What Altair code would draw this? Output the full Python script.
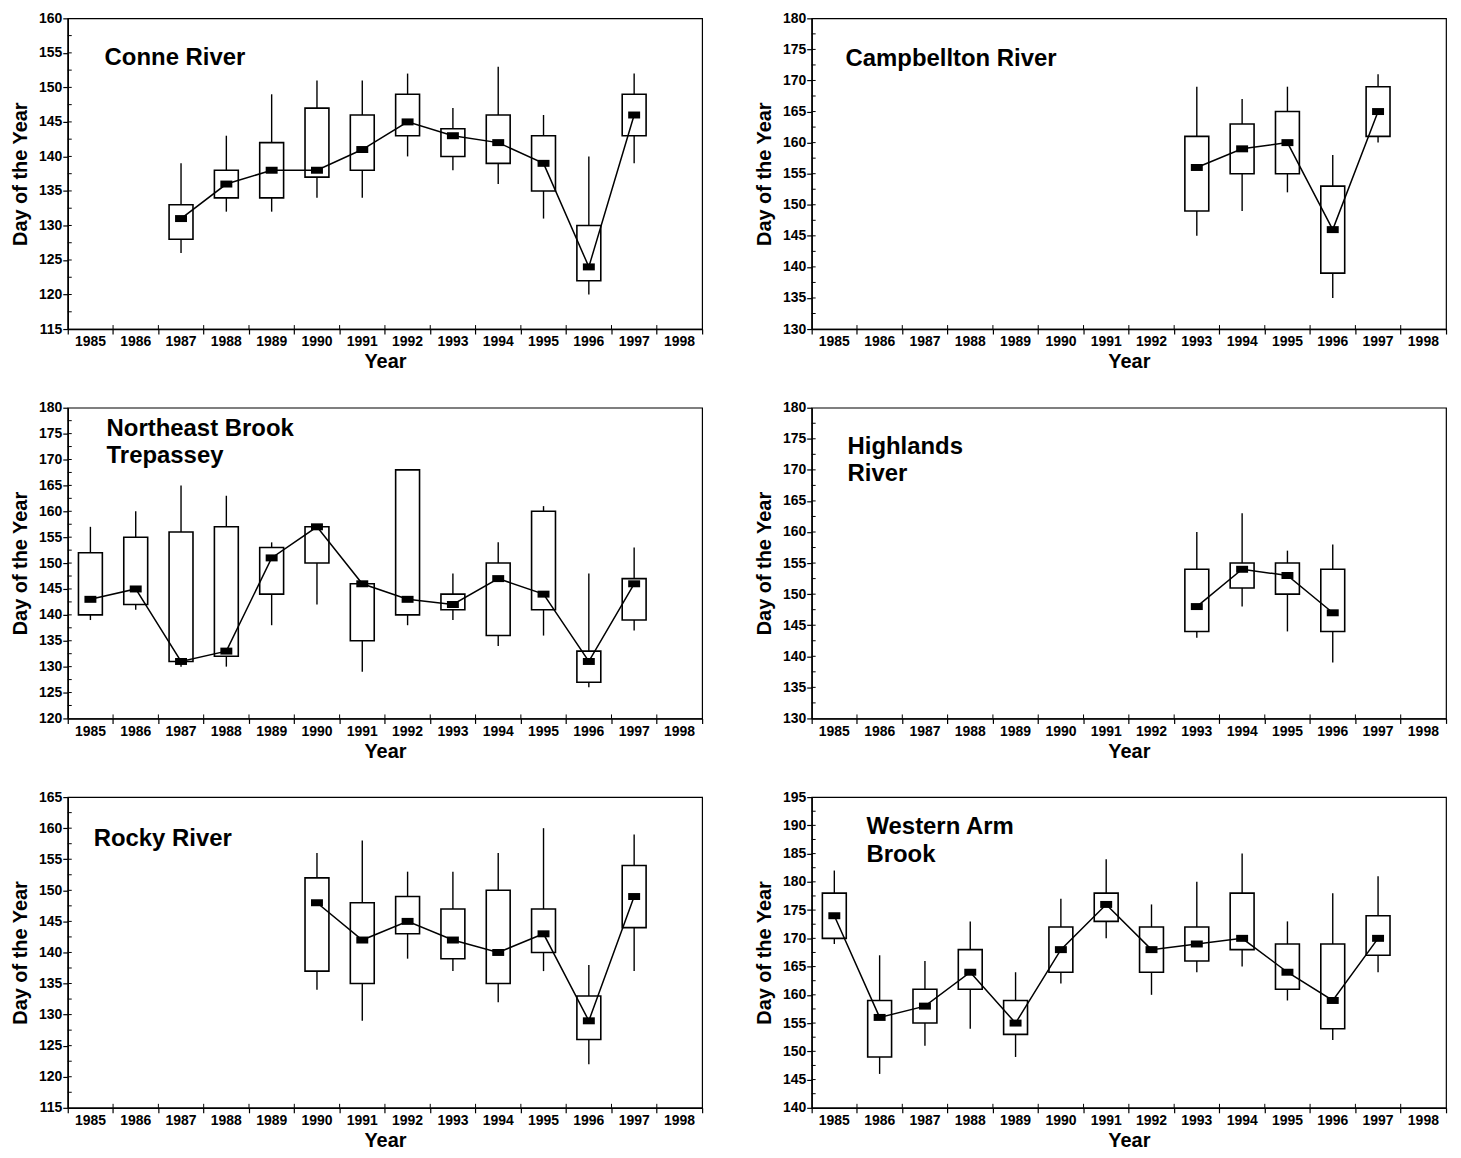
import altair as alt
import pandas as pd
import numpy as np

years_all = [str(y) for y in range(1985, 1999)]

# Conne River
conne_year = [1987, 1988, 1989, 1990, 1991, 1992, 1993, 1994, 1995, 1996, 1997]
conne_min = [126, 132, 132, 134, 134, 140, 138, 136, 131, 120, 139]
conne_q1 = [128, 134, 134, 137, 138, 143, 140, 139, 135, 122, 143]
conne_med = [131, 136, 138, 138, 141, 145, 143, 142, 139, 124, 146]
conne_q3 = [133, 138, 142, 147, 146, 149, 144, 146, 143, 130, 149]
conne_max = [139, 143, 149, 151, 151, 152, 147, 153, 146, 140, 152]

# Campbellton River
camp_year = [1993, 1994, 1995, 1996, 1997]
camp_min = [145, 149, 152, 135, 160]
camp_q1 = [149, 155, 155, 139, 161]
camp_med = [156, 159, 160, 146, 165]
camp_q3 = [161, 163, 165, 153, 169]
camp_max = [169, 167, 169, 158, 171]

# Northeast Brook Trepassey
neb_year = [1985, 1986, 1987, 1988, 1989, 1990, 1991, 1992, 1993, 1994, 1995, 1996, 1997]
neb_min = [139, 141, 130, 130, 138, 142, 129, 138, 139, 134, 136, 126, 137]
neb_q1 = [140, 142, 131, 132, 144, 150, 135, 140, 141, 136, 141, 127, 139]
neb_med = [143, 145, 131, 133, 151, 157, 146, 143, 142, 147, 144, 131, 146]
neb_q3 = [152, 155, 156, 157, 153, 157, 146, 168, 144, 150, 160, 133, 147]
neb_max = [157, 160, 165, 163, 154, 157, 146, 168, 148, 154, 161, 148, 153]

# Highlands River
hig_year = [1993, 1994, 1995, 1996]
hig_min = [143, 148, 144, 139]
hig_q1 = [144, 151, 150, 144]
hig_med = [148, 154, 153, 147]
hig_q3 = [154, 155, 155, 154]
hig_max = [160, 163, 157, 158]

# Rocky River
roc_year = [1990, 1991, 1992, 1993, 1994, 1995, 1996, 1997]
roc_min = [134, 129, 139, 137, 132, 137, 122, 137]
roc_q1 = [137, 135, 143, 139, 135, 140, 126, 144]
roc_med = [148, 142, 145, 142, 140, 143, 129, 149]
roc_q3 = [152, 148, 149, 147, 150, 147, 133, 154]
roc_max = [156, 158, 153, 153, 156, 160, 138, 159]

# Western Arm Brook
wab_year = [1985, 1986, 1987, 1988, 1989, 1990, 1991, 1992, 1993, 1994, 1995, 1996, 1997]
wab_min = [169, 146, 151, 154, 149, 162, 170, 160, 164, 165, 159, 152, 164]
wab_q1 = [170, 149, 155, 161, 153, 164, 173, 164, 166, 168, 161, 154, 167]
wab_med = [174, 156, 158, 164, 155, 168, 176, 168, 169, 170, 164, 159, 170]
wab_q3 = [178, 159, 161, 168, 159, 172, 178, 172, 172, 178, 169, 169, 174]
wab_max = [182, 167, 166, 173, 164, 177, 184, 176, 180, 185, 173, 178, 181]

FONT = "Liberation Sans"
W, H = 637, 312


def panel(title_lines, years, mn, q1, md, q3, mx, ylo, yhi, tx, ty):
    df = pd.DataFrame({
        "year": [str(y) for y in years],
        "mn": mn, "q1": q1, "md": md, "q3": q3, "mx": mx,
    })
    xscale = alt.Scale(type="band", domain=years_all, paddingInner=0, paddingOuter=0)
    xaxis = alt.Axis(title="Year", bandPosition=1, tickExtra=True, labelAngle=0,
                     labelPadding=1, titlePadding=3)
    yscale = alt.Scale(domain=[ylo, yhi], nice=False, zero=False)
    yaxis = alt.Axis(values=list(range(ylo, yhi + 1, 5)), labelPadding=1, titlePadding=8)

    def X():
        return alt.X("year:O", scale=xscale, axis=xaxis, title="Year")

    def Y(f):
        return alt.Y(f, scale=yscale, axis=yaxis, title="Day of the Year")

    base = alt.Chart(df)
    whisk = base.mark_rule(color="black", strokeWidth=1.4).encode(x=X(), y=Y("mn:Q"), y2="mx:Q")
    box = base.mark_bar(size=24, fill="white", stroke="black", strokeWidth=1.6).encode(
        x=X(), y=Y("q1:Q"), y2="q3:Q")
    line = base.mark_line(color="black", strokeWidth=1.5).encode(x=X(), y=Y("md:Q"))
    med = base.mark_tick(color="black", thickness=7, size=12, opacity=1).encode(x=X(), y=Y("md:Q"))

    minor = pd.DataFrame({"v": np.arange(ylo + 2.5, yhi, 2.5)})
    yticks = alt.Chart(minor).mark_rule(color="black", strokeWidth=1).encode(
        y=Y("v:Q"), x=alt.value(0), x2=alt.value(4))
    xt = pd.DataFrame({"year": years_all[:-1]})
    xticks = alt.Chart(xt).mark_rule(color="black", strokeWidth=1).encode(
        x=alt.X("year:O", scale=xscale, axis=xaxis, title="Year", bandPosition=1),
        y=alt.value(H), y2=alt.value(H - 4))

    title = alt.Chart(pd.DataFrame({"a": [0]})).mark_text(
        text=title_lines, font=FONT, fontWeight="bold", fontSize=24, align="left",
        baseline="top", lineHeight=28, color="black"
    ).encode(x=alt.value(tx), y=alt.value(ty))

    return alt.layer(whisk, box, line, med, yticks, xticks, title).properties(width=W, height=H)


p1 = panel(["Conne River"], conne_year, conne_min, conne_q1, conne_med, conne_q3, conne_max, 115, 160, 37, 28)
p2 = panel(["Campbellton River"], camp_year, camp_min, camp_q1, camp_med, camp_q3, camp_max, 130, 180, 34, 29)
p3 = panel(["Northeast Brook", "Trepassey"], neb_year, neb_min, neb_q1, neb_med, neb_q3, neb_max, 120, 180, 39, 9)
p4 = panel(["Highlands", "River"], hig_year, hig_min, hig_q1, hig_med, hig_q3, hig_max, 130, 180, 36, 27)
p5 = panel(["Rocky River"], roc_year, roc_min, roc_q1, roc_med, roc_q3, roc_max, 115, 165, 26, 30)
p6 = panel(["Western Arm", "Brook"], wab_year, wab_min, wab_q1, wab_med, wab_q3, wab_max, 140, 195, 55, 18)

chart = alt.vconcat(
    alt.hconcat(p1, p2, spacing=50),
    alt.hconcat(p3, p4, spacing=50),
    alt.hconcat(p5, p6, spacing=50),
    spacing=27,
).properties(
    padding={"left": 2, "top": 0, "right": 5, "bottom": 0}
).configure_view(
    stroke="black", strokeWidth=1.2
).configure_axis(
    labelFont=FONT, labelFontWeight="bold", labelFontSize=14, labelColor="black",
    titleFont=FONT, titleFontWeight="bold", titleFontSize=20, titleColor="black",
    tickColor="black", tickSize=5, tickWidth=1.2,
    domainColor="black", domainWidth=1.5, grid=False,
)

chart.save("out.html", embed_options={"renderer": "svg", "actions": False})
